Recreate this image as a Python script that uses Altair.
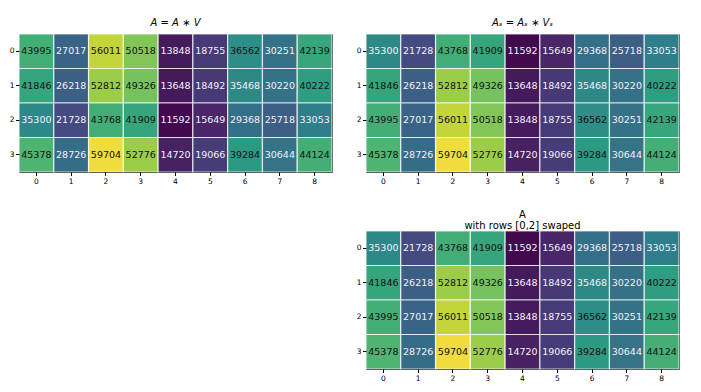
import altair as alt
import pandas as pd

rows = [0, 1, 2, 3]
cols = [0, 1, 2, 3, 4, 5, 6, 7, 8]

A_vals = [
    [43995, 27017, 56011, 50518, 13848, 18755, 36562, 30251, 42139],
    [41846, 26218, 52812, 49326, 13648, 18492, 35468, 30220, 40222],
    [35300, 21728, 43768, 41909, 11592, 15649, 29368, 25718, 33053],
    [45378, 28726, 59704, 52776, 14720, 19066, 39284, 30644, 44124],
]
AS_vals = [
    [35300, 21728, 43768, 41909, 11592, 15649, 29368, 25718, 33053],
    [41846, 26218, 52812, 49326, 13648, 18492, 35468, 30220, 40222],
    [43995, 27017, 56011, 50518, 13848, 18755, 36562, 30251, 42139],
    [45378, 28726, 59704, 52776, 14720, 19066, 39284, 30644, 44124],
]
swap_vals = [
    [35300, 21728, 43768, 41909, 11592, 15649, 29368, 25718, 33053],
    [41846, 26218, 52812, 49326, 13648, 18492, 35468, 30220, 40222],
    [43995, 27017, 56011, 50518, 13848, 18755, 36562, 30251, 42139],
    [45378, 28726, 59704, 52776, 14720, 19066, 39284, 30644, 44124],
]

# viridis colour stops (style), slightly muted like the reference render
VIRIDIS = ["#440154", "#482475", "#414487", "#355f8d", "#2a788e", "#21918c",
           "#22a884", "#44bf70", "#7ad151", "#bddf26", "#fde725"]


def mute(hexc, k=0.18):
    r, g, b = (int(hexc[i:i + 2], 16) for i in (1, 3, 5))
    m = (r + g + b) / 3.0
    r, g, b = (round(c + k * (m - c)) for c in (r, g, b))
    return "#%02x%02x%02x" % (r, g, b)


PALETTE = [mute(c) for c in VIRIDIS]
FONT = "DejaVu Sans"


def panel(values, title, italic, offset):
    recs = [{"row": r, "col": c, "v": values[r][c]} for r in rows for c in cols]
    df = pd.DataFrame(recs)
    lo, hi = float(df.v.min()), float(df.v.max())
    thr = (lo + hi) / 2.0
    n = len(PALETTE) - 1
    dom = [lo + (hi - lo) * i / n for i in range(n + 1)]
    axis = dict(labelAngle=0, tickSize=3.5, labelPadding=1.5, domain=False, title=None,
                labelFontSize=7.5, labelColor="black", tickColor="black", labelFont=FONT)
    base = alt.Chart(df).encode(
        x=alt.X("col:O", axis=alt.Axis(**axis), scale=alt.Scale(paddingInner=0, paddingOuter=0)),
        y=alt.Y("row:O", axis=alt.Axis(**axis), scale=alt.Scale(paddingInner=0, paddingOuter=0)),
    )
    rect = base.mark_rect(stroke="white", strokeWidth=1.2, strokeOpacity=0.75).encode(
        color=alt.Color("v:Q", scale=alt.Scale(domain=dom, range=PALETTE, nice=False),
                        legend=None)
    )
    text = base.mark_text(fontSize=9.5, font=FONT).encode(
        text=alt.Text("v:Q", format="d"),
        color=alt.condition(alt.datum.v > thr, alt.value("#111111"), alt.value("#f4f0fa")),
    )
    tp = dict(text=title, fontSize=10, font=FONT, fontWeight="normal", color="black",
              offset=offset, lineHeight=11)
    if italic:
        tp["fontStyle"] = "italic"
    return alt.layer(rect, text).properties(width=313, height=138, title=alt.TitleParams(**tp))


p1 = panel(A_vals, "A = A \u2217 V", True, 5)
p2 = panel(AS_vals, "A\u209b = A\u209b \u2217 V\u209b", True, 5)
p3 = panel(swap_vals, ["A", "with rows [0,2] swaped"], False, -1)

right = alt.vconcat(p2, p3, spacing=24)
chart = alt.hconcat(p1, right, spacing=21).properties(
    padding={"left": 0, "top": 9, "right": 0, "bottom": 0}
).configure_view(stroke="black", strokeWidth=1)

chart.save("out.html", embed_options={"renderer": "svg", "actions": False})
